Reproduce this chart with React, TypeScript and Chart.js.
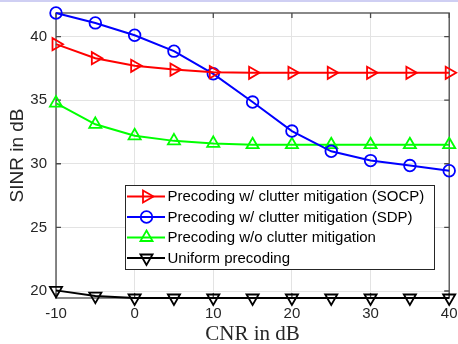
import React, { useEffect, useRef } from "react";
import { Chart, registerables } from "chart.js";

Chart.register(...registerables);

const cnr = [-10, -5, 0, 5, 10, 15, 20, 25, 30, 35, 40];
const socp = [39.4, 38.3, 37.7, 37.4, 37.2, 37.15, 37.15, 37.15, 37.15, 37.15, 37.15];
const sdp = [41.85, 41.07, 40.1, 38.85, 37.07, 34.85, 32.57, 30.98, 30.25, 29.86, 29.45];
const noMitigation = [34.77, 33.1, 32.2, 31.8, 31.6, 31.5, 31.5, 31.5, 31.5, 31.5, 31.5];
const uniform = [20.05, 19.6, 19.45, 19.45, 19.45, 19.45, 19.45, 19.45, 19.45, 19.45, 19.45];

const seriesLabels = [
  "Precoding w/ clutter mitigation (SOCP)",
  "Precoding w/ clutter mitigation (SDP)",
  "Precoding w/o clutter mitigation",
  "Uniform precoding",
];
const xTicks = [-10, 0, 10, 20, 30, 40];
const yTicks = [20, 25, 30, 35, 40];
const xTitle = "CNR in dB";
const yTitle = "SINR in dB";

const TEXT = "#262626";
const FONT = "'Liberation Sans', Arial, sans-serif";

function drawMarker(ctx: CanvasRenderingContext2D, style: string, rotDeg: number, r: number, x: number, y: number) {
  ctx.beginPath();
  if (style === "circle") {
    ctx.arc(x, y, r, 0, Math.PI * 2);
  } else {
    let rad = (rotDeg * Math.PI) / 180;
    ctx.moveTo(x + Math.sin(rad) * r, y - Math.cos(rad) * r);
    rad += (2 * Math.PI) / 3;
    ctx.lineTo(x + Math.sin(rad) * r, y - Math.cos(rad) * r);
    rad += (2 * Math.PI) / 3;
    ctx.lineTo(x + Math.sin(rad) * r, y - Math.cos(rad) * r);
    ctx.closePath();
  }
  ctx.stroke();
}

export default function App() {
  const ref = useRef<HTMLCanvasElement | null>(null);

  useEffect(() => {
    if (!ref.current) return;
    const mk = (label: string, data: number[], color: string, style: string, rot: number, r: number) => ({
      label,
      data: cnr.map((x, i) => ({ x, y: data[i] })),
      borderColor: color,
      backgroundColor: color,
      borderWidth: 2,
      pointStyle: style,
      rotation: rot,
      pointRadius: r,
      pointBorderWidth: 1.8,
      pointBackgroundColor: "rgba(0,0,0,0)",
      pointBorderColor: color,
      tension: 0,
      clip: false as any,
    });
    const datasets = [
      mk(seriesLabels[0], socp, "#ff0000", "triangle", 90, 7),
      mk(seriesLabels[1], sdp, "#0000ff", "circle", 0, 5.8),
      mk(seriesLabels[2], noMitigation, "#00ff00", "triangle", 0, 7),
      mk(seriesLabels[3], uniform, "#000000", "triangle", 180, 7),
    ];

    const framePlugin = {
      id: "frame",
      beforeDatasetsDraw(chart: any) {
        const { ctx, chartArea: a, scales } = chart;
        ctx.save();
        ctx.strokeStyle = "#4a4a4a";
        ctx.lineWidth = 1.3;
        ctx.strokeRect(a.left, a.top, a.right - a.left, a.bottom - a.top);
        ctx.beginPath();
        const tl = 5;
        xTicks.forEach((v) => {
          const px = scales.x.getPixelForValue(v);
          ctx.moveTo(px, a.bottom);
          ctx.lineTo(px, a.bottom - tl);
          ctx.moveTo(px, a.top);
          ctx.lineTo(px, a.top + tl);
        });
        yTicks.forEach((v) => {
          const py = scales.y.getPixelForValue(v);
          ctx.moveTo(a.left, py);
          ctx.lineTo(a.left + tl, py);
          ctx.moveTo(a.right, py);
          ctx.lineTo(a.right - tl, py);
        });
        ctx.stroke();
        ctx.restore();
      },
      afterDraw(chart: any) {
        const { ctx, chartArea: a } = chart;
        ctx.save();
        ctx.fillStyle = TEXT;
        ctx.font = "21px 'Liberation Serif', 'Times New Roman', serif";
        ctx.textAlign = "center";
        ctx.textBaseline = "alphabetic";
        ctx.fillText(xTitle, (a.left + a.right) / 2, 339.5);
        ctx.save();
        ctx.translate(22.5, (a.top + a.bottom) / 2);
        ctx.rotate(-Math.PI / 2);
        ctx.font = `19px ${FONT}`;
        ctx.fillText(yTitle, 0, 0);
        ctx.restore();

        const bx = 125.5, by = 185.5, bw = 309, bh = 84;
        ctx.fillStyle = "#ffffff";
        ctx.fillRect(bx, by, bw, bh);
        ctx.strokeStyle = "#262626";
        ctx.lineWidth = 1;
        ctx.strokeRect(bx, by, bw, bh);
        const rows = [196.5, 217, 237.5, 258];
        chart.data.datasets.forEach((ds: any, i: number) => {
          const y = rows[i];
          ctx.strokeStyle = ds.borderColor;
          ctx.lineWidth = 2;
          ctx.beginPath();
          ctx.moveTo(127, y);
          ctx.lineTo(165, y);
          ctx.stroke();
          ctx.lineWidth = 1.8;
          drawMarker(ctx, ds.pointStyle, ds.rotation, ds.pointRadius, 146.5, y);
          ctx.fillStyle = "#000000";
          ctx.font = `15px ${FONT}`;
          ctx.textAlign = "left";
          ctx.textBaseline = "middle";
          ctx.fillText(ds.label, 167.5, y + 0.5);
        });
        ctx.restore();
      },
    };

    const chart = new Chart(ref.current, {
      type: "line",
      data: { datasets: datasets as any },
      options: {
        animation: false,
        responsive: false,
        maintainAspectRatio: false,
        layout: { padding: { top: 13, right: 8, left: 0, bottom: 0 } },
        plugins: { legend: { display: false }, tooltip: { enabled: false } },
        scales: {
          x: {
            type: "linear",
            min: -10,
            max: 40,
            afterBuildTicks: (s: any) => {
              s.ticks = xTicks.map((v) => ({ value: v }));
            },
            afterFit: (s: any) => {
              s.height = 46;
              s.paddingLeft = 0;
              s.paddingRight = 0;
            },
            ticks: {
              color: TEXT,
              font: { family: FONT, size: 15 },
              padding: 7,
              maxRotation: 0,
              autoSkip: false,
            },
            grid: { color: "#e3e3e3", drawTicks: false, lineWidth: 1 },
            border: { display: false },
          },
          y: {
            type: "linear",
            min: 19.45,
            max: 41.85,
            afterBuildTicks: (s: any) => {
              s.ticks = yTicks.map((v) => ({ value: v }));
            },
            afterFit: (s: any) => {
              s.width = 56;
              s.paddingTop = 0;
              s.paddingBottom = 0;
            },
            ticks: {
              color: TEXT,
              font: { family: FONT, size: 15 },
              padding: 9,
              autoSkip: false,
            },
            grid: { color: "#e3e3e3", drawTicks: false, lineWidth: 1 },
            border: { display: false },
          },
        },
      },
      plugins: [framePlugin],
    });
    return () => chart.destroy();
  }, []);

  return (
    <div style={{ position: "fixed", left: 0, top: 0, width: 458, height: 344, background: "#fff" }}>
      <canvas ref={ref} width={458} height={344} style={{ display: "block", width: 458, height: 344 }} />
      <div style={{ position: "absolute", left: 0, top: 0, width: 458, height: 2, background: "#cfcff3" }} />
    </div>
  );
}
